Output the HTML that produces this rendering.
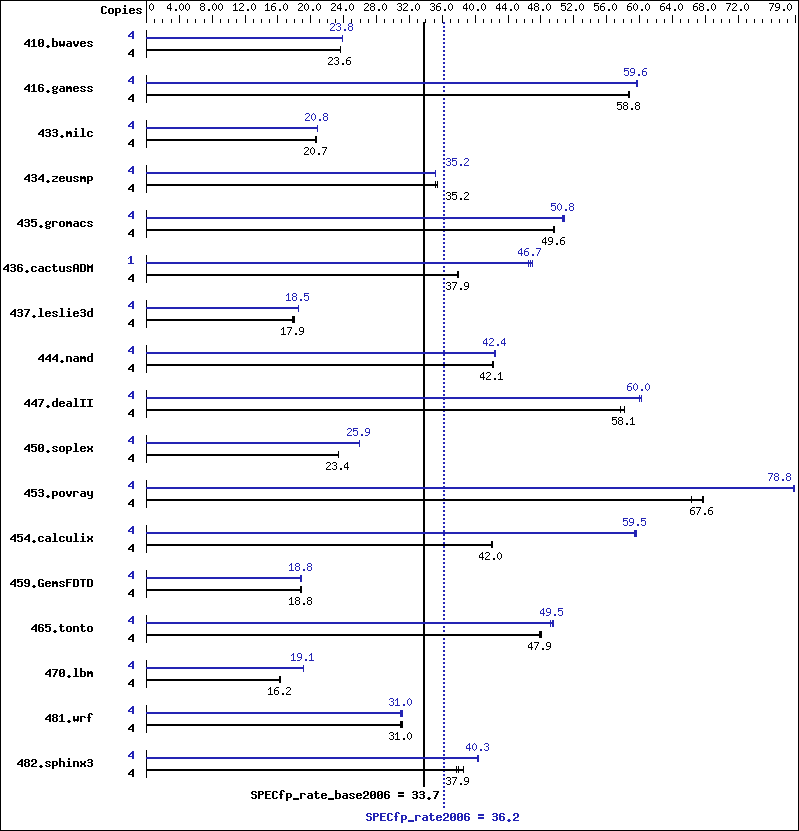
<!DOCTYPE html>
<html lang="en">
<head>
<meta charset="utf-8">
<title>SPECfp_rate2006 result graph</title>
<style>
html,body{margin:0;padding:0;background:#fff;}
body{width:799px;height:831px;overflow:hidden;font-family:"Liberation Mono",monospace;}
svg{display:block;position:absolute;left:0;top:0;}
.t{font-family:"Liberation Mono",monospace;font-size:10px;fill-opacity:0;stroke:none;}
.tb{font-size:11.6px;font-weight:bold;}
</style>
</head>
<body>
<svg width="799" height="831" viewBox="0 0 799 831" shape-rendering="crispEdges" role="img" aria-label="SPECfp_rate2006 benchmark results chart">
<defs>
<path id="s46" d="M2 9h2v1h-2zM2 10h2v1h-2z"/>
<path id="s48" d="M2 3h1v1h-1zM1 4h1v1h-1zM3 4h1v1h-1zM0 5h1v1h-1zM4 5h1v1h-1zM0 6h1v1h-1zM4 6h1v1h-1zM0 7h1v1h-1zM4 7h1v1h-1zM0 8h1v1h-1zM4 8h1v1h-1zM1 9h1v1h-1zM3 9h1v1h-1zM2 10h1v1h-1z"/>
<path id="s49" d="M2 3h1v1h-1zM1 4h2v1h-2zM0 5h1v1h-1zM2 5h1v1h-1zM2 6h1v1h-1zM2 7h1v1h-1zM2 8h1v1h-1zM2 9h1v1h-1zM0 10h5v1h-5z"/>
<path id="s50" d="M1 3h3v1h-3zM0 4h1v1h-1zM4 4h1v1h-1zM4 5h1v1h-1zM3 6h1v1h-1zM2 7h1v1h-1zM1 8h1v1h-1zM0 9h1v1h-1zM0 10h5v1h-5z"/>
<path id="s51" d="M1 3h3v1h-3zM0 4h1v1h-1zM4 4h1v1h-1zM4 5h1v1h-1zM2 6h2v1h-2zM4 7h1v1h-1zM4 8h1v1h-1zM0 9h1v1h-1zM4 9h1v1h-1zM1 10h3v1h-3z"/>
<path id="s52" d="M3 3h1v1h-1zM2 4h2v1h-2zM1 5h1v1h-1zM3 5h1v1h-1zM0 6h1v1h-1zM3 6h1v1h-1zM0 7h1v1h-1zM3 7h1v1h-1zM0 8h5v1h-5zM3 9h1v1h-1zM3 10h1v1h-1z"/>
<path id="s53" d="M0 3h5v1h-5zM0 4h1v1h-1zM0 5h4v1h-4zM0 6h1v1h-1zM4 6h1v1h-1zM4 7h1v1h-1zM4 8h1v1h-1zM0 9h1v1h-1zM4 9h1v1h-1zM1 10h3v1h-3z"/>
<path id="s54" d="M2 3h3v1h-3zM1 4h1v1h-1zM0 5h1v1h-1zM0 6h4v1h-4zM0 7h1v1h-1zM4 7h1v1h-1zM0 8h1v1h-1zM4 8h1v1h-1zM0 9h1v1h-1zM4 9h1v1h-1zM1 10h3v1h-3z"/>
<path id="s55" d="M0 3h5v1h-5zM4 4h1v1h-1zM3 5h1v1h-1zM3 6h1v1h-1zM2 7h1v1h-1zM2 8h1v1h-1zM1 9h1v1h-1zM1 10h1v1h-1z"/>
<path id="s56" d="M1 3h3v1h-3zM0 4h1v1h-1zM4 4h1v1h-1zM0 5h1v1h-1zM4 5h1v1h-1zM1 6h3v1h-3zM0 7h1v1h-1zM4 7h1v1h-1zM0 8h1v1h-1zM4 8h1v1h-1zM0 9h1v1h-1zM4 9h1v1h-1zM1 10h3v1h-3z"/>
<path id="s57" d="M1 3h3v1h-3zM0 4h1v1h-1zM4 4h1v1h-1zM0 5h1v1h-1zM4 5h1v1h-1zM0 6h1v1h-1zM4 6h1v1h-1zM1 7h4v1h-4zM4 8h1v1h-1zM3 9h1v1h-1zM0 10h3v1h-3z"/>
<path id="b46" d="M2 9h2v1h-2zM1 10h4v1h-4zM2 11h2v1h-2z"/>
<path id="b48" d="M1 3h4v1h-4zM0 4h2v1h-2zM4 4h2v1h-2zM0 5h2v1h-2zM4 5h2v1h-2zM0 6h2v1h-2zM3 6h3v1h-3zM0 7h3v1h-3zM4 7h2v1h-2zM0 8h2v1h-2zM4 8h2v1h-2zM0 9h2v1h-2zM4 9h2v1h-2zM1 10h4v1h-4z"/>
<path id="b49" d="M2 3h2v1h-2zM1 4h3v1h-3zM0 5h1v1h-1zM2 5h2v1h-2zM2 6h2v1h-2zM2 7h2v1h-2zM2 8h2v1h-2zM2 9h2v1h-2zM0 10h6v1h-6z"/>
<path id="b50" d="M1 3h4v1h-4zM0 4h2v1h-2zM4 4h2v1h-2zM0 5h2v1h-2zM4 5h2v1h-2zM4 6h2v1h-2zM2 7h3v1h-3zM1 8h2v1h-2zM0 9h2v1h-2zM0 10h6v1h-6z"/>
<path id="b51" d="M1 3h4v1h-4zM0 4h2v1h-2zM4 4h2v1h-2zM4 5h2v1h-2zM1 6h4v1h-4zM4 7h2v1h-2zM4 8h2v1h-2zM0 9h2v1h-2zM4 9h2v1h-2zM1 10h4v1h-4z"/>
<path id="b52" d="M4 3h2v1h-2zM3 4h3v1h-3zM2 5h4v1h-4zM1 6h2v1h-2zM4 6h2v1h-2zM0 7h2v1h-2zM4 7h2v1h-2zM0 8h6v1h-6zM4 9h2v1h-2zM4 10h2v1h-2z"/>
<path id="b53" d="M0 3h6v1h-6zM0 4h2v1h-2zM0 5h5v1h-5zM0 6h2v1h-2zM4 6h2v1h-2zM4 7h2v1h-2zM4 8h2v1h-2zM0 9h2v1h-2zM4 9h2v1h-2zM1 10h4v1h-4z"/>
<path id="b54" d="M1 3h4v1h-4zM0 4h2v1h-2zM4 4h2v1h-2zM0 5h2v1h-2zM0 6h5v1h-5zM0 7h2v1h-2zM4 7h2v1h-2zM0 8h2v1h-2zM4 8h2v1h-2zM0 9h2v1h-2zM4 9h2v1h-2zM1 10h4v1h-4z"/>
<path id="b55" d="M0 3h6v1h-6zM4 4h2v1h-2zM3 5h2v1h-2zM3 6h2v1h-2zM2 7h2v1h-2zM2 8h2v1h-2zM1 9h2v1h-2zM1 10h2v1h-2z"/>
<path id="b56" d="M1 3h4v1h-4zM0 4h2v1h-2zM4 4h2v1h-2zM0 5h2v1h-2zM4 5h2v1h-2zM1 6h4v1h-4zM0 7h2v1h-2zM4 7h2v1h-2zM0 8h2v1h-2zM4 8h2v1h-2zM0 9h2v1h-2zM4 9h2v1h-2zM1 10h4v1h-4z"/>
<path id="b57" d="M1 3h4v1h-4zM0 4h2v1h-2zM4 4h2v1h-2zM0 5h2v1h-2zM4 5h2v1h-2zM0 6h2v1h-2zM4 6h2v1h-2zM1 7h5v1h-5zM4 8h2v1h-2zM0 9h2v1h-2zM4 9h2v1h-2zM1 10h4v1h-4z"/>
<path id="b61" d="M0 4h6v1h-6zM0 5h6v1h-6zM0 7h6v1h-6zM0 8h6v1h-6z"/>
<path id="b65" d="M1 3h4v1h-4zM0 4h2v1h-2zM4 4h2v1h-2zM0 5h2v1h-2zM4 5h2v1h-2zM0 6h2v1h-2zM4 6h2v1h-2zM0 7h6v1h-6zM0 8h2v1h-2zM4 8h2v1h-2zM0 9h2v1h-2zM4 9h2v1h-2zM0 10h2v1h-2zM4 10h2v1h-2z"/>
<path id="b67" d="M1 3h4v1h-4zM0 4h2v1h-2zM4 4h2v1h-2zM0 5h2v1h-2zM0 6h2v1h-2zM0 7h2v1h-2zM0 8h2v1h-2zM0 9h2v1h-2zM4 9h2v1h-2zM1 10h4v1h-4z"/>
<path id="b68" d="M0 3h5v1h-5zM0 4h2v1h-2zM4 4h2v1h-2zM0 5h2v1h-2zM4 5h2v1h-2zM0 6h2v1h-2zM4 6h2v1h-2zM0 7h2v1h-2zM4 7h2v1h-2zM0 8h2v1h-2zM4 8h2v1h-2zM0 9h2v1h-2zM4 9h2v1h-2zM0 10h5v1h-5z"/>
<path id="b69" d="M0 3h6v1h-6zM0 4h2v1h-2zM0 5h2v1h-2zM0 6h5v1h-5zM0 7h2v1h-2zM0 8h2v1h-2zM0 9h2v1h-2zM0 10h6v1h-6z"/>
<path id="b70" d="M0 3h6v1h-6zM0 4h2v1h-2zM0 5h2v1h-2zM0 6h5v1h-5zM0 7h2v1h-2zM0 8h2v1h-2zM0 9h2v1h-2zM0 10h2v1h-2z"/>
<path id="b71" d="M1 3h4v1h-4zM0 4h2v1h-2zM4 4h2v1h-2zM0 5h2v1h-2zM0 6h2v1h-2zM0 7h2v1h-2zM3 7h3v1h-3zM0 8h2v1h-2zM4 8h2v1h-2zM0 9h2v1h-2zM4 9h2v1h-2zM1 10h5v1h-5z"/>
<path id="b73" d="M0 3h6v1h-6zM2 4h2v1h-2zM2 5h2v1h-2zM2 6h2v1h-2zM2 7h2v1h-2zM2 8h2v1h-2zM2 9h2v1h-2zM0 10h6v1h-6z"/>
<path id="b77" d="M0 3h1v1h-1zM5 3h1v1h-1zM0 4h2v1h-2zM4 4h2v1h-2zM0 5h6v1h-6zM0 6h6v1h-6zM0 7h2v1h-2zM4 7h2v1h-2zM0 8h2v1h-2zM4 8h2v1h-2zM0 9h2v1h-2zM4 9h2v1h-2zM0 10h2v1h-2zM4 10h2v1h-2z"/>
<path id="b80" d="M0 3h5v1h-5zM0 4h2v1h-2zM4 4h2v1h-2zM0 5h2v1h-2zM4 5h2v1h-2zM0 6h5v1h-5zM0 7h2v1h-2zM0 8h2v1h-2zM0 9h2v1h-2zM0 10h2v1h-2z"/>
<path id="b83" d="M1 3h4v1h-4zM0 4h2v1h-2zM4 4h2v1h-2zM0 5h2v1h-2zM1 6h4v1h-4zM4 7h2v1h-2zM4 8h2v1h-2zM0 9h2v1h-2zM4 9h2v1h-2zM1 10h4v1h-4z"/>
<path id="b84" d="M0 3h6v1h-6zM2 4h2v1h-2zM2 5h2v1h-2zM2 6h2v1h-2zM2 7h2v1h-2zM2 8h2v1h-2zM2 9h2v1h-2zM2 10h2v1h-2z"/>
<path id="b95" d="M0 10h6v1h-6zM0 11h6v1h-6z"/>
<path id="b97" d="M1 5h4v1h-4zM4 6h2v1h-2zM1 7h5v1h-5zM0 8h2v1h-2zM4 8h2v1h-2zM0 9h2v1h-2zM4 9h2v1h-2zM1 10h5v1h-5z"/>
<path id="b98" d="M0 2h2v1h-2zM0 3h2v1h-2zM0 4h2v1h-2zM0 5h5v1h-5zM0 6h2v1h-2zM4 6h2v1h-2zM0 7h2v1h-2zM4 7h2v1h-2zM0 8h2v1h-2zM4 8h2v1h-2zM0 9h2v1h-2zM4 9h2v1h-2zM0 10h5v1h-5z"/>
<path id="b99" d="M1 5h4v1h-4zM0 6h2v1h-2zM4 6h2v1h-2zM0 7h2v1h-2zM0 8h2v1h-2zM0 9h2v1h-2zM4 9h2v1h-2zM1 10h4v1h-4z"/>
<path id="b100" d="M4 2h2v1h-2zM4 3h2v1h-2zM4 4h2v1h-2zM1 5h5v1h-5zM0 6h2v1h-2zM4 6h2v1h-2zM0 7h2v1h-2zM4 7h2v1h-2zM0 8h2v1h-2zM4 8h2v1h-2zM0 9h2v1h-2zM4 9h2v1h-2zM1 10h5v1h-5z"/>
<path id="b101" d="M1 5h4v1h-4zM0 6h2v1h-2zM4 6h2v1h-2zM0 7h6v1h-6zM0 8h2v1h-2zM0 9h2v1h-2zM4 9h2v1h-2zM1 10h4v1h-4z"/>
<path id="b102" d="M2 2h3v1h-3zM1 3h2v1h-2zM4 3h2v1h-2zM1 4h2v1h-2zM1 5h2v1h-2zM0 6h4v1h-4zM1 7h2v1h-2zM1 8h2v1h-2zM1 9h2v1h-2zM1 10h2v1h-2z"/>
<path id="b103" d="M1 5h3v1h-3zM5 5h1v1h-1zM0 6h2v1h-2zM4 6h2v1h-2zM0 7h2v1h-2zM4 7h2v1h-2zM1 8h4v1h-4zM0 9h2v1h-2zM1 10h4v1h-4zM0 11h2v1h-2zM4 11h2v1h-2zM1 12h4v1h-4z"/>
<path id="b104" d="M0 2h2v1h-2zM0 3h2v1h-2zM0 4h2v1h-2zM0 5h5v1h-5zM0 6h2v1h-2zM4 6h2v1h-2zM0 7h2v1h-2zM4 7h2v1h-2zM0 8h2v1h-2zM4 8h2v1h-2zM0 9h2v1h-2zM4 9h2v1h-2zM0 10h2v1h-2zM4 10h2v1h-2z"/>
<path id="b105" d="M2 2h2v1h-2zM2 3h2v1h-2zM1 5h3v1h-3zM2 6h2v1h-2zM2 7h2v1h-2zM2 8h2v1h-2zM2 9h2v1h-2zM0 10h6v1h-6z"/>
<path id="b108" d="M1 2h3v1h-3zM2 3h2v1h-2zM2 4h2v1h-2zM2 5h2v1h-2zM2 6h2v1h-2zM2 7h2v1h-2zM2 8h2v1h-2zM2 9h2v1h-2zM0 10h6v1h-6z"/>
<path id="b109" d="M0 5h2v1h-2zM3 5h2v1h-2zM0 6h6v1h-6zM0 7h6v1h-6zM0 8h2v1h-2zM4 8h2v1h-2zM0 9h2v1h-2zM4 9h2v1h-2zM0 10h2v1h-2zM4 10h2v1h-2z"/>
<path id="b110" d="M0 5h5v1h-5zM0 6h2v1h-2zM4 6h2v1h-2zM0 7h2v1h-2zM4 7h2v1h-2zM0 8h2v1h-2zM4 8h2v1h-2zM0 9h2v1h-2zM4 9h2v1h-2zM0 10h2v1h-2zM4 10h2v1h-2z"/>
<path id="b111" d="M1 5h4v1h-4zM0 6h2v1h-2zM4 6h2v1h-2zM0 7h2v1h-2zM4 7h2v1h-2zM0 8h2v1h-2zM4 8h2v1h-2zM0 9h2v1h-2zM4 9h2v1h-2zM1 10h4v1h-4z"/>
<path id="b112" d="M0 5h5v1h-5zM0 6h2v1h-2zM4 6h2v1h-2zM0 7h2v1h-2zM4 7h2v1h-2zM0 8h2v1h-2zM4 8h2v1h-2zM0 9h5v1h-5zM0 10h2v1h-2zM0 11h2v1h-2zM0 12h2v1h-2z"/>
<path id="b114" d="M0 5h5v1h-5zM0 6h2v1h-2zM4 6h2v1h-2zM0 7h2v1h-2zM0 8h2v1h-2zM0 9h2v1h-2zM0 10h2v1h-2z"/>
<path id="b115" d="M1 5h4v1h-4zM0 6h2v1h-2zM4 6h2v1h-2zM1 7h2v1h-2zM3 8h2v1h-2zM0 9h2v1h-2zM4 9h2v1h-2zM1 10h4v1h-4z"/>
<path id="b116" d="M1 3h2v1h-2zM1 4h2v1h-2zM0 5h5v1h-5zM1 6h2v1h-2zM1 7h2v1h-2zM1 8h2v1h-2zM1 9h2v1h-2zM4 9h2v1h-2zM2 10h3v1h-3z"/>
<path id="b117" d="M0 5h2v1h-2zM4 5h2v1h-2zM0 6h2v1h-2zM4 6h2v1h-2zM0 7h2v1h-2zM4 7h2v1h-2zM0 8h2v1h-2zM4 8h2v1h-2zM0 9h2v1h-2zM4 9h2v1h-2zM1 10h5v1h-5z"/>
<path id="b118" d="M0 5h2v1h-2zM4 5h2v1h-2zM0 6h2v1h-2zM4 6h2v1h-2zM0 7h2v1h-2zM4 7h2v1h-2zM1 8h4v1h-4zM1 9h4v1h-4zM2 10h2v1h-2z"/>
<path id="b119" d="M0 5h2v1h-2zM4 5h2v1h-2zM0 6h2v1h-2zM4 6h2v1h-2zM0 7h2v1h-2zM4 7h2v1h-2zM0 8h6v1h-6zM0 9h6v1h-6zM1 10h1v1h-1zM4 10h1v1h-1z"/>
<path id="b120" d="M0 5h2v1h-2zM4 5h2v1h-2zM0 6h2v1h-2zM4 6h2v1h-2zM1 7h4v1h-4zM1 8h4v1h-4zM0 9h2v1h-2zM4 9h2v1h-2zM0 10h2v1h-2zM4 10h2v1h-2z"/>
<path id="b121" d="M0 5h2v1h-2zM4 5h2v1h-2zM0 6h2v1h-2zM4 6h2v1h-2zM0 7h2v1h-2zM4 7h2v1h-2zM0 8h2v1h-2zM4 8h2v1h-2zM1 9h5v1h-5zM4 10h2v1h-2zM4 11h2v1h-2zM1 12h4v1h-4z"/>
<path id="b122" d="M0 5h6v1h-6zM4 6h2v1h-2zM3 7h2v1h-2zM1 8h2v1h-2zM0 9h2v1h-2zM0 10h6v1h-6z"/>
</defs>
<rect x="0" y="0" width="799" height="831" fill="#fff"/>
<g id="border" fill="#000"><rect x="0" y="0" width="799" height="1"/><rect x="0" y="830" width="799" height="1"/><rect x="0" y="0" width="1" height="831"/><rect x="798" y="0" width="1" height="831"/></g>
<g id="axis" fill="#000"><rect x="146" y="0" width="1" height="23"/><rect x="154" y="19" width="1" height="4"/><rect x="162" y="19" width="1" height="4"/><rect x="171" y="19" width="1" height="4"/><rect x="179" y="15" width="1" height="8"/><rect x="187" y="19" width="1" height="4"/><rect x="195" y="19" width="1" height="4"/><rect x="204" y="19" width="1" height="4"/><rect x="212" y="15" width="1" height="8"/><rect x="220" y="19" width="1" height="4"/><rect x="228" y="19" width="1" height="4"/><rect x="236" y="19" width="1" height="4"/><rect x="245" y="15" width="1" height="8"/><rect x="253" y="19" width="1" height="4"/><rect x="261" y="19" width="1" height="4"/><rect x="269" y="19" width="1" height="4"/><rect x="277" y="15" width="1" height="8"/><rect x="286" y="19" width="1" height="4"/><rect x="294" y="19" width="1" height="4"/><rect x="302" y="19" width="1" height="4"/><rect x="310" y="15" width="1" height="8"/><rect x="319" y="19" width="1" height="4"/><rect x="327" y="19" width="1" height="4"/><rect x="335" y="19" width="1" height="4"/><rect x="343" y="15" width="1" height="8"/><rect x="351" y="19" width="1" height="4"/><rect x="360" y="19" width="1" height="4"/><rect x="368" y="19" width="1" height="4"/><rect x="376" y="15" width="1" height="8"/><rect x="384" y="19" width="1" height="4"/><rect x="393" y="19" width="1" height="4"/><rect x="401" y="19" width="1" height="4"/><rect x="409" y="15" width="1" height="8"/><rect x="417" y="19" width="1" height="4"/><rect x="425" y="19" width="1" height="4"/><rect x="434" y="19" width="1" height="4"/><rect x="442" y="15" width="1" height="8"/><rect x="450" y="19" width="1" height="4"/><rect x="458" y="19" width="1" height="4"/><rect x="467" y="19" width="1" height="4"/><rect x="475" y="15" width="1" height="8"/><rect x="483" y="19" width="1" height="4"/><rect x="491" y="19" width="1" height="4"/><rect x="499" y="19" width="1" height="4"/><rect x="508" y="15" width="1" height="8"/><rect x="516" y="19" width="1" height="4"/><rect x="524" y="19" width="1" height="4"/><rect x="532" y="19" width="1" height="4"/><rect x="540" y="15" width="1" height="8"/><rect x="549" y="19" width="1" height="4"/><rect x="557" y="19" width="1" height="4"/><rect x="565" y="19" width="1" height="4"/><rect x="573" y="15" width="1" height="8"/><rect x="582" y="19" width="1" height="4"/><rect x="590" y="19" width="1" height="4"/><rect x="598" y="19" width="1" height="4"/><rect x="606" y="15" width="1" height="8"/><rect x="614" y="19" width="1" height="4"/><rect x="623" y="19" width="1" height="4"/><rect x="631" y="19" width="1" height="4"/><rect x="639" y="15" width="1" height="8"/><rect x="647" y="19" width="1" height="4"/><rect x="656" y="19" width="1" height="4"/><rect x="664" y="19" width="1" height="4"/><rect x="672" y="15" width="1" height="8"/><rect x="680" y="19" width="1" height="4"/><rect x="688" y="19" width="1" height="4"/><rect x="697" y="19" width="1" height="4"/><rect x="705" y="15" width="1" height="8"/><rect x="713" y="19" width="1" height="4"/><rect x="721" y="19" width="1" height="4"/><rect x="729" y="19" width="1" height="4"/><rect x="738" y="15" width="1" height="8"/><rect x="746" y="19" width="1" height="4"/><rect x="754" y="19" width="1" height="4"/><rect x="762" y="19" width="1" height="4"/><rect x="771" y="19" width="1" height="4"/><rect x="779" y="19" width="1" height="4"/><rect x="787" y="19" width="1" height="4"/><rect x="795" y="15" width="1" height="8"/>
<g><text class="t" x="149" y="11" textLength="6">0</text><use href="#s48" x="149" y="0"/></g>
<g><text class="t" x="167" y="11" textLength="24">4.00</text><use href="#s52" x="167" y="0"/><use href="#s46" x="173" y="0"/><use href="#s48" x="179" y="0"/><use href="#s48" x="185" y="0"/></g>
<g><text class="t" x="200" y="11" textLength="24">8.00</text><use href="#s56" x="200" y="0"/><use href="#s46" x="206" y="0"/><use href="#s48" x="212" y="0"/><use href="#s48" x="218" y="0"/></g>
<g><text class="t" x="233" y="11" textLength="24">12.0</text><use href="#s49" x="233" y="0"/><use href="#s50" x="239" y="0"/><use href="#s46" x="245" y="0"/><use href="#s48" x="251" y="0"/></g>
<g><text class="t" x="265" y="11" textLength="24">16.0</text><use href="#s49" x="265" y="0"/><use href="#s54" x="271" y="0"/><use href="#s46" x="277" y="0"/><use href="#s48" x="283" y="0"/></g>
<g><text class="t" x="298" y="11" textLength="24">20.0</text><use href="#s50" x="298" y="0"/><use href="#s48" x="304" y="0"/><use href="#s46" x="310" y="0"/><use href="#s48" x="316" y="0"/></g>
<g><text class="t" x="331" y="11" textLength="24">24.0</text><use href="#s50" x="331" y="0"/><use href="#s52" x="337" y="0"/><use href="#s46" x="343" y="0"/><use href="#s48" x="349" y="0"/></g>
<g><text class="t" x="364" y="11" textLength="24">28.0</text><use href="#s50" x="364" y="0"/><use href="#s56" x="370" y="0"/><use href="#s46" x="376" y="0"/><use href="#s48" x="382" y="0"/></g>
<g><text class="t" x="397" y="11" textLength="24">32.0</text><use href="#s51" x="397" y="0"/><use href="#s50" x="403" y="0"/><use href="#s46" x="409" y="0"/><use href="#s48" x="415" y="0"/></g>
<g><text class="t" x="430" y="11" textLength="24">36.0</text><use href="#s51" x="430" y="0"/><use href="#s54" x="436" y="0"/><use href="#s46" x="442" y="0"/><use href="#s48" x="448" y="0"/></g>
<g><text class="t" x="463" y="11" textLength="24">40.0</text><use href="#s52" x="463" y="0"/><use href="#s48" x="469" y="0"/><use href="#s46" x="475" y="0"/><use href="#s48" x="481" y="0"/></g>
<g><text class="t" x="496" y="11" textLength="24">44.0</text><use href="#s52" x="496" y="0"/><use href="#s52" x="502" y="0"/><use href="#s46" x="508" y="0"/><use href="#s48" x="514" y="0"/></g>
<g><text class="t" x="528" y="11" textLength="24">48.0</text><use href="#s52" x="528" y="0"/><use href="#s56" x="534" y="0"/><use href="#s46" x="540" y="0"/><use href="#s48" x="546" y="0"/></g>
<g><text class="t" x="561" y="11" textLength="24">52.0</text><use href="#s53" x="561" y="0"/><use href="#s50" x="567" y="0"/><use href="#s46" x="573" y="0"/><use href="#s48" x="579" y="0"/></g>
<g><text class="t" x="594" y="11" textLength="24">56.0</text><use href="#s53" x="594" y="0"/><use href="#s54" x="600" y="0"/><use href="#s46" x="606" y="0"/><use href="#s48" x="612" y="0"/></g>
<g><text class="t" x="627" y="11" textLength="24">60.0</text><use href="#s54" x="627" y="0"/><use href="#s48" x="633" y="0"/><use href="#s46" x="639" y="0"/><use href="#s48" x="645" y="0"/></g>
<g><text class="t" x="660" y="11" textLength="24">64.0</text><use href="#s54" x="660" y="0"/><use href="#s52" x="666" y="0"/><use href="#s46" x="672" y="0"/><use href="#s48" x="678" y="0"/></g>
<g><text class="t" x="693" y="11" textLength="24">68.0</text><use href="#s54" x="693" y="0"/><use href="#s56" x="699" y="0"/><use href="#s46" x="705" y="0"/><use href="#s48" x="711" y="0"/></g>
<g><text class="t" x="726" y="11" textLength="24">72.0</text><use href="#s55" x="726" y="0"/><use href="#s50" x="732" y="0"/><use href="#s46" x="738" y="0"/><use href="#s48" x="744" y="0"/></g>
<g><text class="t" x="769" y="11" textLength="24">79.0</text><use href="#s55" x="769" y="0"/><use href="#s57" x="775" y="0"/><use href="#s46" x="781" y="0"/><use href="#s48" x="787" y="0"/></g>
<g><text class="t tb" x="101" y="14" textLength="42">Copies</text><use href="#b67" x="101" y="3"/><use href="#b111" x="108" y="3"/><use href="#b112" x="115" y="3"/><use href="#b105" x="122" y="3"/><use href="#b101" x="129" y="3"/><use href="#b115" x="136" y="3"/></g></g>
<g id="mean-base" fill="#000"><rect x="423" y="22" width="2" height="765"/></g>
<g id="mean-peak" fill="#2424b4"><rect x="443" y="22" width="2" height="2"/><rect x="443" y="26" width="2" height="2"/><rect x="443" y="30" width="2" height="2"/><rect x="443" y="34" width="2" height="2"/><rect x="443" y="38" width="2" height="2"/><rect x="443" y="42" width="2" height="2"/><rect x="443" y="46" width="2" height="2"/><rect x="443" y="50" width="2" height="2"/><rect x="443" y="54" width="2" height="2"/><rect x="443" y="58" width="2" height="2"/><rect x="443" y="62" width="2" height="2"/><rect x="443" y="66" width="2" height="2"/><rect x="443" y="70" width="2" height="2"/><rect x="443" y="74" width="2" height="2"/><rect x="443" y="78" width="2" height="2"/><rect x="443" y="82" width="2" height="2"/><rect x="443" y="86" width="2" height="2"/><rect x="443" y="90" width="2" height="2"/><rect x="443" y="94" width="2" height="2"/><rect x="443" y="98" width="2" height="2"/><rect x="443" y="102" width="2" height="2"/><rect x="443" y="106" width="2" height="2"/><rect x="443" y="110" width="2" height="2"/><rect x="443" y="114" width="2" height="2"/><rect x="443" y="118" width="2" height="2"/><rect x="443" y="122" width="2" height="2"/><rect x="443" y="126" width="2" height="2"/><rect x="443" y="130" width="2" height="2"/><rect x="443" y="134" width="2" height="2"/><rect x="443" y="138" width="2" height="2"/><rect x="443" y="142" width="2" height="2"/><rect x="443" y="146" width="2" height="2"/><rect x="443" y="150" width="2" height="2"/><rect x="443" y="154" width="2" height="2"/><rect x="443" y="158" width="2" height="2"/><rect x="443" y="162" width="2" height="2"/><rect x="443" y="166" width="2" height="2"/><rect x="443" y="170" width="2" height="2"/><rect x="443" y="174" width="2" height="2"/><rect x="443" y="178" width="2" height="2"/><rect x="443" y="182" width="2" height="2"/><rect x="443" y="186" width="2" height="2"/><rect x="443" y="190" width="2" height="2"/><rect x="443" y="194" width="2" height="2"/><rect x="443" y="198" width="2" height="2"/><rect x="443" y="202" width="2" height="2"/><rect x="443" y="206" width="2" height="2"/><rect x="443" y="210" width="2" height="2"/><rect x="443" y="214" width="2" height="2"/><rect x="443" y="218" width="2" height="2"/><rect x="443" y="222" width="2" height="2"/><rect x="443" y="226" width="2" height="2"/><rect x="443" y="230" width="2" height="2"/><rect x="443" y="234" width="2" height="2"/><rect x="443" y="238" width="2" height="2"/><rect x="443" y="242" width="2" height="2"/><rect x="443" y="246" width="2" height="2"/><rect x="443" y="250" width="2" height="2"/><rect x="443" y="254" width="2" height="2"/><rect x="443" y="258" width="2" height="2"/><rect x="443" y="262" width="2" height="2"/><rect x="443" y="266" width="2" height="2"/><rect x="443" y="270" width="2" height="2"/><rect x="443" y="274" width="2" height="2"/><rect x="443" y="278" width="2" height="2"/><rect x="443" y="282" width="2" height="2"/><rect x="443" y="286" width="2" height="2"/><rect x="443" y="290" width="2" height="2"/><rect x="443" y="294" width="2" height="2"/><rect x="443" y="298" width="2" height="2"/><rect x="443" y="302" width="2" height="2"/><rect x="443" y="306" width="2" height="2"/><rect x="443" y="310" width="2" height="2"/><rect x="443" y="314" width="2" height="2"/><rect x="443" y="318" width="2" height="2"/><rect x="443" y="322" width="2" height="2"/><rect x="443" y="326" width="2" height="2"/><rect x="443" y="330" width="2" height="2"/><rect x="443" y="334" width="2" height="2"/><rect x="443" y="338" width="2" height="2"/><rect x="443" y="342" width="2" height="2"/><rect x="443" y="346" width="2" height="2"/><rect x="443" y="350" width="2" height="2"/><rect x="443" y="354" width="2" height="2"/><rect x="443" y="358" width="2" height="2"/><rect x="443" y="362" width="2" height="2"/><rect x="443" y="366" width="2" height="2"/><rect x="443" y="370" width="2" height="2"/><rect x="443" y="374" width="2" height="2"/><rect x="443" y="378" width="2" height="2"/><rect x="443" y="382" width="2" height="2"/><rect x="443" y="386" width="2" height="2"/><rect x="443" y="390" width="2" height="2"/><rect x="443" y="394" width="2" height="2"/><rect x="443" y="398" width="2" height="2"/><rect x="443" y="402" width="2" height="2"/><rect x="443" y="406" width="2" height="2"/><rect x="443" y="410" width="2" height="2"/><rect x="443" y="414" width="2" height="2"/><rect x="443" y="418" width="2" height="2"/><rect x="443" y="422" width="2" height="2"/><rect x="443" y="426" width="2" height="2"/><rect x="443" y="430" width="2" height="2"/><rect x="443" y="434" width="2" height="2"/><rect x="443" y="438" width="2" height="2"/><rect x="443" y="442" width="2" height="2"/><rect x="443" y="446" width="2" height="2"/><rect x="443" y="450" width="2" height="2"/><rect x="443" y="454" width="2" height="2"/><rect x="443" y="458" width="2" height="2"/><rect x="443" y="462" width="2" height="2"/><rect x="443" y="466" width="2" height="2"/><rect x="443" y="470" width="2" height="2"/><rect x="443" y="474" width="2" height="2"/><rect x="443" y="478" width="2" height="2"/><rect x="443" y="482" width="2" height="2"/><rect x="443" y="486" width="2" height="2"/><rect x="443" y="490" width="2" height="2"/><rect x="443" y="494" width="2" height="2"/><rect x="443" y="498" width="2" height="2"/><rect x="443" y="502" width="2" height="2"/><rect x="443" y="506" width="2" height="2"/><rect x="443" y="510" width="2" height="2"/><rect x="443" y="514" width="2" height="2"/><rect x="443" y="518" width="2" height="2"/><rect x="443" y="522" width="2" height="2"/><rect x="443" y="526" width="2" height="2"/><rect x="443" y="530" width="2" height="2"/><rect x="443" y="534" width="2" height="2"/><rect x="443" y="538" width="2" height="2"/><rect x="443" y="542" width="2" height="2"/><rect x="443" y="546" width="2" height="2"/><rect x="443" y="550" width="2" height="2"/><rect x="443" y="554" width="2" height="2"/><rect x="443" y="558" width="2" height="2"/><rect x="443" y="562" width="2" height="2"/><rect x="443" y="566" width="2" height="2"/><rect x="443" y="570" width="2" height="2"/><rect x="443" y="574" width="2" height="2"/><rect x="443" y="578" width="2" height="2"/><rect x="443" y="582" width="2" height="2"/><rect x="443" y="586" width="2" height="2"/><rect x="443" y="590" width="2" height="2"/><rect x="443" y="594" width="2" height="2"/><rect x="443" y="598" width="2" height="2"/><rect x="443" y="602" width="2" height="2"/><rect x="443" y="606" width="2" height="2"/><rect x="443" y="610" width="2" height="2"/><rect x="443" y="614" width="2" height="2"/><rect x="443" y="618" width="2" height="2"/><rect x="443" y="622" width="2" height="2"/><rect x="443" y="626" width="2" height="2"/><rect x="443" y="630" width="2" height="2"/><rect x="443" y="634" width="2" height="2"/><rect x="443" y="638" width="2" height="2"/><rect x="443" y="642" width="2" height="2"/><rect x="443" y="646" width="2" height="2"/><rect x="443" y="650" width="2" height="2"/><rect x="443" y="654" width="2" height="2"/><rect x="443" y="658" width="2" height="2"/><rect x="443" y="662" width="2" height="2"/><rect x="443" y="666" width="2" height="2"/><rect x="443" y="670" width="2" height="2"/><rect x="443" y="674" width="2" height="2"/><rect x="443" y="678" width="2" height="2"/><rect x="443" y="682" width="2" height="2"/><rect x="443" y="686" width="2" height="2"/><rect x="443" y="690" width="2" height="2"/><rect x="443" y="694" width="2" height="2"/><rect x="443" y="698" width="2" height="2"/><rect x="443" y="702" width="2" height="2"/><rect x="443" y="706" width="2" height="2"/><rect x="443" y="710" width="2" height="2"/><rect x="443" y="714" width="2" height="2"/><rect x="443" y="718" width="2" height="2"/><rect x="443" y="722" width="2" height="2"/><rect x="443" y="726" width="2" height="2"/><rect x="443" y="730" width="2" height="2"/><rect x="443" y="734" width="2" height="2"/><rect x="443" y="738" width="2" height="2"/><rect x="443" y="742" width="2" height="2"/><rect x="443" y="746" width="2" height="2"/><rect x="443" y="750" width="2" height="2"/><rect x="443" y="754" width="2" height="2"/><rect x="443" y="758" width="2" height="2"/><rect x="443" y="762" width="2" height="2"/><rect x="443" y="766" width="2" height="2"/><rect x="443" y="770" width="2" height="2"/><rect x="443" y="774" width="2" height="2"/><rect x="443" y="778" width="2" height="2"/><rect x="443" y="782" width="2" height="2"/><rect x="443" y="786" width="2" height="2"/><rect x="443" y="790" width="2" height="2"/><rect x="443" y="794" width="2" height="2"/><rect x="443" y="798" width="2" height="2"/><rect x="443" y="802" width="2" height="2"/><rect x="443" y="806" width="2" height="2"/></g>
<g id="row-axes" fill="#000"><rect x="146" y="30" width="1" height="28"/><rect x="146" y="75" width="1" height="28"/><rect x="146" y="120" width="1" height="28"/><rect x="146" y="165" width="1" height="28"/><rect x="146" y="210" width="1" height="28"/><rect x="146" y="255" width="1" height="28"/><rect x="146" y="300" width="1" height="28"/><rect x="146" y="345" width="1" height="28"/><rect x="146" y="390" width="1" height="28"/><rect x="146" y="435" width="1" height="28"/><rect x="146" y="480" width="1" height="28"/><rect x="146" y="525" width="1" height="28"/><rect x="146" y="570" width="1" height="28"/><rect x="146" y="615" width="1" height="28"/><rect x="146" y="660" width="1" height="28"/><rect x="146" y="705" width="1" height="28"/><rect x="146" y="750" width="1" height="28"/></g>
<g id="base-bars" fill="#000">
<rect x="146" y="49" width="195" height="2"/>
<rect x="340" y="46" width="1" height="7"/>
<rect x="146" y="94" width="484" height="2"/>
<rect x="628" y="91" width="1" height="7"/>
<rect x="629" y="91" width="1" height="7"/>
<rect x="146" y="139" width="171" height="2"/>
<rect x="315" y="136" width="1" height="7"/>
<rect x="316" y="136" width="1" height="7"/>
<rect x="146" y="184" width="292" height="2"/>
<rect x="435" y="181" width="1" height="7"/>
<rect x="437" y="181" width="1" height="7"/>
<rect x="146" y="229" width="409" height="2"/>
<rect x="553" y="226" width="1" height="7"/>
<rect x="554" y="226" width="1" height="7"/>
<rect x="146" y="274" width="313" height="2"/>
<rect x="457" y="271" width="1" height="7"/>
<rect x="458" y="271" width="1" height="7"/>
<rect x="146" y="319" width="149" height="2"/>
<rect x="292" y="316" width="1" height="7"/>
<rect x="293" y="316" width="1" height="7"/>
<rect x="294" y="316" width="1" height="7"/>
<rect x="146" y="364" width="348" height="2"/>
<rect x="492" y="361" width="1" height="7"/>
<rect x="493" y="361" width="1" height="7"/>
<rect x="146" y="409" width="479" height="2"/>
<rect x="620" y="406" width="1" height="7"/>
<rect x="624" y="406" width="1" height="7"/>
<rect x="146" y="454" width="193" height="2"/>
<rect x="338" y="451" width="1" height="7"/>
<rect x="146" y="499" width="558" height="2"/>
<rect x="691" y="496" width="1" height="7"/>
<rect x="702" y="496" width="1" height="7"/>
<rect x="703" y="496" width="1" height="7"/>
<rect x="146" y="544" width="347" height="2"/>
<rect x="491" y="541" width="1" height="7"/>
<rect x="492" y="541" width="1" height="7"/>
<rect x="146" y="589" width="156" height="2"/>
<rect x="300" y="586" width="1" height="7"/>
<rect x="301" y="586" width="1" height="7"/>
<rect x="146" y="634" width="396" height="2"/>
<rect x="539" y="631" width="1" height="7"/>
<rect x="540" y="631" width="1" height="7"/>
<rect x="541" y="631" width="1" height="7"/>
<rect x="146" y="679" width="135" height="2"/>
<rect x="279" y="676" width="1" height="7"/>
<rect x="280" y="676" width="1" height="7"/>
<rect x="146" y="724" width="257" height="2"/>
<rect x="400" y="721" width="1" height="7"/>
<rect x="401" y="721" width="1" height="7"/>
<rect x="402" y="721" width="1" height="7"/>
<rect x="146" y="769" width="318" height="2"/>
<rect x="456" y="766" width="1" height="7"/>
<rect x="458" y="766" width="1" height="7"/>
<rect x="463" y="766" width="1" height="7"/>
</g>
<g id="peak-bars" fill="#2424b4">
<rect x="146" y="37" width="197" height="2"/>
<rect x="342" y="35" width="1" height="7"/>
<rect x="146" y="82" width="492" height="2"/>
<rect x="636" y="80" width="1" height="7"/>
<rect x="637" y="80" width="1" height="7"/>
<rect x="146" y="127" width="172" height="2"/>
<rect x="317" y="125" width="1" height="7"/>
<rect x="146" y="172" width="290" height="2"/>
<rect x="435" y="170" width="1" height="7"/>
<rect x="146" y="217" width="419" height="2"/>
<rect x="562" y="215" width="1" height="7"/>
<rect x="563" y="215" width="1" height="7"/>
<rect x="564" y="215" width="1" height="7"/>
<rect x="146" y="262" width="387" height="2"/>
<rect x="528" y="260" width="1" height="7"/>
<rect x="530" y="260" width="1" height="7"/>
<rect x="532" y="260" width="1" height="7"/>
<rect x="146" y="307" width="153" height="2"/>
<rect x="298" y="305" width="1" height="7"/>
<rect x="146" y="352" width="350" height="2"/>
<rect x="494" y="350" width="1" height="7"/>
<rect x="495" y="350" width="1" height="7"/>
<rect x="146" y="397" width="496" height="2"/>
<rect x="639" y="395" width="1" height="7"/>
<rect x="641" y="395" width="1" height="7"/>
<rect x="146" y="442" width="214" height="2"/>
<rect x="359" y="440" width="1" height="7"/>
<rect x="146" y="487" width="649" height="2"/>
<rect x="793" y="485" width="1" height="7"/>
<rect x="794" y="485" width="1" height="7"/>
<rect x="146" y="532" width="491" height="2"/>
<rect x="634" y="530" width="1" height="7"/>
<rect x="635" y="530" width="1" height="7"/>
<rect x="636" y="530" width="1" height="7"/>
<rect x="146" y="577" width="156" height="2"/>
<rect x="300" y="575" width="1" height="7"/>
<rect x="301" y="575" width="1" height="7"/>
<rect x="146" y="622" width="408" height="2"/>
<rect x="550" y="620" width="1" height="7"/>
<rect x="552" y="620" width="1" height="7"/>
<rect x="553" y="620" width="1" height="7"/>
<rect x="146" y="667" width="158" height="2"/>
<rect x="303" y="665" width="1" height="7"/>
<rect x="146" y="712" width="257" height="2"/>
<rect x="400" y="710" width="1" height="7"/>
<rect x="401" y="710" width="1" height="7"/>
<rect x="402" y="710" width="1" height="7"/>
<rect x="146" y="757" width="333" height="2"/>
<rect x="477" y="755" width="1" height="7"/>
<rect x="478" y="755" width="1" height="7"/>
</g>
<g id="labels-base" fill="#000">
<g><text class="t tb" x="24" y="47" textLength="70">410.bwaves</text><use href="#b52" x="24" y="36"/><use href="#b49" x="31" y="36"/><use href="#b48" x="38" y="36"/><use href="#b46" x="45" y="36"/><use href="#b98" x="52" y="36"/><use href="#b119" x="59" y="36"/><use href="#b97" x="66" y="36"/><use href="#b118" x="73" y="36"/><use href="#b101" x="80" y="36"/><use href="#b115" x="87" y="36"/></g>
<g><text class="t tb" x="128" y="57" textLength="7">4</text><use href="#b52" x="128" y="46"/></g>
<g><text class="t" x="328" y="65" textLength="24">23.6</text><use href="#s50" x="328" y="54"/><use href="#s51" x="334" y="54"/><use href="#s46" x="340" y="54"/><use href="#s54" x="346" y="54"/></g>
<g><text class="t tb" x="24" y="92" textLength="70">416.gamess</text><use href="#b52" x="24" y="81"/><use href="#b49" x="31" y="81"/><use href="#b54" x="38" y="81"/><use href="#b46" x="45" y="81"/><use href="#b103" x="52" y="81"/><use href="#b97" x="59" y="81"/><use href="#b109" x="66" y="81"/><use href="#b101" x="73" y="81"/><use href="#b115" x="80" y="81"/><use href="#b115" x="87" y="81"/></g>
<g><text class="t tb" x="128" y="102" textLength="7">4</text><use href="#b52" x="128" y="91"/></g>
<g><text class="t" x="617" y="110" textLength="24">58.8</text><use href="#s53" x="617" y="99"/><use href="#s56" x="623" y="99"/><use href="#s46" x="629" y="99"/><use href="#s56" x="635" y="99"/></g>
<g><text class="t tb" x="38" y="137" textLength="56">433.milc</text><use href="#b52" x="38" y="126"/><use href="#b51" x="45" y="126"/><use href="#b51" x="52" y="126"/><use href="#b46" x="59" y="126"/><use href="#b109" x="66" y="126"/><use href="#b105" x="73" y="126"/><use href="#b108" x="80" y="126"/><use href="#b99" x="87" y="126"/></g>
<g><text class="t tb" x="128" y="147" textLength="7">4</text><use href="#b52" x="128" y="136"/></g>
<g><text class="t" x="304" y="155" textLength="24">20.7</text><use href="#s50" x="304" y="144"/><use href="#s48" x="310" y="144"/><use href="#s46" x="316" y="144"/><use href="#s55" x="322" y="144"/></g>
<g><text class="t tb" x="24" y="182" textLength="70">434.zeusmp</text><use href="#b52" x="24" y="171"/><use href="#b51" x="31" y="171"/><use href="#b52" x="38" y="171"/><use href="#b46" x="45" y="171"/><use href="#b122" x="52" y="171"/><use href="#b101" x="59" y="171"/><use href="#b117" x="66" y="171"/><use href="#b115" x="73" y="171"/><use href="#b109" x="80" y="171"/><use href="#b112" x="87" y="171"/></g>
<g><text class="t tb" x="128" y="192" textLength="7">4</text><use href="#b52" x="128" y="181"/></g>
<g><text class="t" x="446" y="200" textLength="24">35.2</text><use href="#s51" x="446" y="189"/><use href="#s53" x="452" y="189"/><use href="#s46" x="458" y="189"/><use href="#s50" x="464" y="189"/></g>
<g><text class="t tb" x="17" y="227" textLength="77">435.gromacs</text><use href="#b52" x="17" y="216"/><use href="#b51" x="24" y="216"/><use href="#b53" x="31" y="216"/><use href="#b46" x="38" y="216"/><use href="#b103" x="45" y="216"/><use href="#b114" x="52" y="216"/><use href="#b111" x="59" y="216"/><use href="#b109" x="66" y="216"/><use href="#b97" x="73" y="216"/><use href="#b99" x="80" y="216"/><use href="#b115" x="87" y="216"/></g>
<g><text class="t tb" x="128" y="237" textLength="7">4</text><use href="#b52" x="128" y="226"/></g>
<g><text class="t" x="542" y="245" textLength="24">49.6</text><use href="#s52" x="542" y="234"/><use href="#s57" x="548" y="234"/><use href="#s46" x="554" y="234"/><use href="#s54" x="560" y="234"/></g>
<g><text class="t tb" x="3" y="272" textLength="91">436.cactusADM</text><use href="#b52" x="3" y="261"/><use href="#b51" x="10" y="261"/><use href="#b54" x="17" y="261"/><use href="#b46" x="24" y="261"/><use href="#b99" x="31" y="261"/><use href="#b97" x="38" y="261"/><use href="#b99" x="45" y="261"/><use href="#b116" x="52" y="261"/><use href="#b117" x="59" y="261"/><use href="#b115" x="66" y="261"/><use href="#b65" x="73" y="261"/><use href="#b68" x="80" y="261"/><use href="#b77" x="87" y="261"/></g>
<g><text class="t tb" x="128" y="282" textLength="7">4</text><use href="#b52" x="128" y="271"/></g>
<g><text class="t" x="446" y="290" textLength="24">37.9</text><use href="#s51" x="446" y="279"/><use href="#s55" x="452" y="279"/><use href="#s46" x="458" y="279"/><use href="#s57" x="464" y="279"/></g>
<g><text class="t tb" x="10" y="317" textLength="84">437.leslie3d</text><use href="#b52" x="10" y="306"/><use href="#b51" x="17" y="306"/><use href="#b55" x="24" y="306"/><use href="#b46" x="31" y="306"/><use href="#b108" x="38" y="306"/><use href="#b101" x="45" y="306"/><use href="#b115" x="52" y="306"/><use href="#b108" x="59" y="306"/><use href="#b105" x="66" y="306"/><use href="#b101" x="73" y="306"/><use href="#b51" x="80" y="306"/><use href="#b100" x="87" y="306"/></g>
<g><text class="t tb" x="128" y="327" textLength="7">4</text><use href="#b52" x="128" y="316"/></g>
<g><text class="t" x="281" y="335" textLength="24">17.9</text><use href="#s49" x="281" y="324"/><use href="#s55" x="287" y="324"/><use href="#s46" x="293" y="324"/><use href="#s57" x="299" y="324"/></g>
<g><text class="t tb" x="38" y="362" textLength="56">444.namd</text><use href="#b52" x="38" y="351"/><use href="#b52" x="45" y="351"/><use href="#b52" x="52" y="351"/><use href="#b46" x="59" y="351"/><use href="#b110" x="66" y="351"/><use href="#b97" x="73" y="351"/><use href="#b109" x="80" y="351"/><use href="#b100" x="87" y="351"/></g>
<g><text class="t tb" x="128" y="372" textLength="7">4</text><use href="#b52" x="128" y="361"/></g>
<g><text class="t" x="480" y="380" textLength="24">42.1</text><use href="#s52" x="480" y="369"/><use href="#s50" x="486" y="369"/><use href="#s46" x="492" y="369"/><use href="#s49" x="498" y="369"/></g>
<g><text class="t tb" x="24" y="407" textLength="70">447.dealII</text><use href="#b52" x="24" y="396"/><use href="#b52" x="31" y="396"/><use href="#b55" x="38" y="396"/><use href="#b46" x="45" y="396"/><use href="#b100" x="52" y="396"/><use href="#b101" x="59" y="396"/><use href="#b97" x="66" y="396"/><use href="#b108" x="73" y="396"/><use href="#b73" x="80" y="396"/><use href="#b73" x="87" y="396"/></g>
<g><text class="t tb" x="128" y="417" textLength="7">4</text><use href="#b52" x="128" y="406"/></g>
<g><text class="t" x="612" y="425" textLength="24">58.1</text><use href="#s53" x="612" y="414"/><use href="#s56" x="618" y="414"/><use href="#s46" x="624" y="414"/><use href="#s49" x="630" y="414"/></g>
<g><text class="t tb" x="24" y="452" textLength="70">450.soplex</text><use href="#b52" x="24" y="441"/><use href="#b53" x="31" y="441"/><use href="#b48" x="38" y="441"/><use href="#b46" x="45" y="441"/><use href="#b115" x="52" y="441"/><use href="#b111" x="59" y="441"/><use href="#b112" x="66" y="441"/><use href="#b108" x="73" y="441"/><use href="#b101" x="80" y="441"/><use href="#b120" x="87" y="441"/></g>
<g><text class="t tb" x="128" y="462" textLength="7">4</text><use href="#b52" x="128" y="451"/></g>
<g><text class="t" x="326" y="470" textLength="24">23.4</text><use href="#s50" x="326" y="459"/><use href="#s51" x="332" y="459"/><use href="#s46" x="338" y="459"/><use href="#s52" x="344" y="459"/></g>
<g><text class="t tb" x="24" y="497" textLength="70">453.povray</text><use href="#b52" x="24" y="486"/><use href="#b53" x="31" y="486"/><use href="#b51" x="38" y="486"/><use href="#b46" x="45" y="486"/><use href="#b112" x="52" y="486"/><use href="#b111" x="59" y="486"/><use href="#b118" x="66" y="486"/><use href="#b114" x="73" y="486"/><use href="#b97" x="80" y="486"/><use href="#b121" x="87" y="486"/></g>
<g><text class="t tb" x="128" y="507" textLength="7">4</text><use href="#b52" x="128" y="496"/></g>
<g><text class="t" x="690" y="515" textLength="24">67.6</text><use href="#s54" x="690" y="504"/><use href="#s55" x="696" y="504"/><use href="#s46" x="702" y="504"/><use href="#s54" x="708" y="504"/></g>
<g><text class="t tb" x="10" y="542" textLength="84">454.calculix</text><use href="#b52" x="10" y="531"/><use href="#b53" x="17" y="531"/><use href="#b52" x="24" y="531"/><use href="#b46" x="31" y="531"/><use href="#b99" x="38" y="531"/><use href="#b97" x="45" y="531"/><use href="#b108" x="52" y="531"/><use href="#b99" x="59" y="531"/><use href="#b117" x="66" y="531"/><use href="#b108" x="73" y="531"/><use href="#b105" x="80" y="531"/><use href="#b120" x="87" y="531"/></g>
<g><text class="t tb" x="128" y="552" textLength="7">4</text><use href="#b52" x="128" y="541"/></g>
<g><text class="t" x="479" y="560" textLength="24">42.0</text><use href="#s52" x="479" y="549"/><use href="#s50" x="485" y="549"/><use href="#s46" x="491" y="549"/><use href="#s48" x="497" y="549"/></g>
<g><text class="t tb" x="10" y="587" textLength="84">459.GemsFDTD</text><use href="#b52" x="10" y="576"/><use href="#b53" x="17" y="576"/><use href="#b57" x="24" y="576"/><use href="#b46" x="31" y="576"/><use href="#b71" x="38" y="576"/><use href="#b101" x="45" y="576"/><use href="#b109" x="52" y="576"/><use href="#b115" x="59" y="576"/><use href="#b70" x="66" y="576"/><use href="#b68" x="73" y="576"/><use href="#b84" x="80" y="576"/><use href="#b68" x="87" y="576"/></g>
<g><text class="t tb" x="128" y="597" textLength="7">4</text><use href="#b52" x="128" y="586"/></g>
<g><text class="t" x="289" y="605" textLength="24">18.8</text><use href="#s49" x="289" y="594"/><use href="#s56" x="295" y="594"/><use href="#s46" x="301" y="594"/><use href="#s56" x="307" y="594"/></g>
<g><text class="t tb" x="31" y="632" textLength="63">465.tonto</text><use href="#b52" x="31" y="621"/><use href="#b54" x="38" y="621"/><use href="#b53" x="45" y="621"/><use href="#b46" x="52" y="621"/><use href="#b116" x="59" y="621"/><use href="#b111" x="66" y="621"/><use href="#b110" x="73" y="621"/><use href="#b116" x="80" y="621"/><use href="#b111" x="87" y="621"/></g>
<g><text class="t tb" x="128" y="642" textLength="7">4</text><use href="#b52" x="128" y="631"/></g>
<g><text class="t" x="528" y="650" textLength="24">47.9</text><use href="#s52" x="528" y="639"/><use href="#s55" x="534" y="639"/><use href="#s46" x="540" y="639"/><use href="#s57" x="546" y="639"/></g>
<g><text class="t tb" x="45" y="677" textLength="49">470.lbm</text><use href="#b52" x="45" y="666"/><use href="#b55" x="52" y="666"/><use href="#b48" x="59" y="666"/><use href="#b46" x="66" y="666"/><use href="#b108" x="73" y="666"/><use href="#b98" x="80" y="666"/><use href="#b109" x="87" y="666"/></g>
<g><text class="t tb" x="128" y="687" textLength="7">4</text><use href="#b52" x="128" y="676"/></g>
<g><text class="t" x="268" y="695" textLength="24">16.2</text><use href="#s49" x="268" y="684"/><use href="#s54" x="274" y="684"/><use href="#s46" x="280" y="684"/><use href="#s50" x="286" y="684"/></g>
<g><text class="t tb" x="45" y="722" textLength="49">481.wrf</text><use href="#b52" x="45" y="711"/><use href="#b56" x="52" y="711"/><use href="#b49" x="59" y="711"/><use href="#b46" x="66" y="711"/><use href="#b119" x="73" y="711"/><use href="#b114" x="80" y="711"/><use href="#b102" x="87" y="711"/></g>
<g><text class="t tb" x="128" y="732" textLength="7">4</text><use href="#b52" x="128" y="721"/></g>
<g><text class="t" x="389" y="740" textLength="24">31.0</text><use href="#s51" x="389" y="729"/><use href="#s49" x="395" y="729"/><use href="#s46" x="401" y="729"/><use href="#s48" x="407" y="729"/></g>
<g><text class="t tb" x="17" y="767" textLength="77">482.sphinx3</text><use href="#b52" x="17" y="756"/><use href="#b56" x="24" y="756"/><use href="#b50" x="31" y="756"/><use href="#b46" x="38" y="756"/><use href="#b115" x="45" y="756"/><use href="#b112" x="52" y="756"/><use href="#b104" x="59" y="756"/><use href="#b105" x="66" y="756"/><use href="#b110" x="73" y="756"/><use href="#b120" x="80" y="756"/><use href="#b51" x="87" y="756"/></g>
<g><text class="t tb" x="128" y="777" textLength="7">4</text><use href="#b52" x="128" y="766"/></g>
<g><text class="t" x="446" y="785" textLength="24">37.9</text><use href="#s51" x="446" y="774"/><use href="#s55" x="452" y="774"/><use href="#s46" x="458" y="774"/><use href="#s57" x="464" y="774"/></g>
<g><text class="t tb" x="251" y="799" textLength="189">SPECfp_rate_base2006 = 33.7</text><use href="#b83" x="251" y="788"/><use href="#b80" x="258" y="788"/><use href="#b69" x="265" y="788"/><use href="#b67" x="272" y="788"/><use href="#b102" x="279" y="788"/><use href="#b112" x="286" y="788"/><use href="#b95" x="293" y="788"/><use href="#b114" x="300" y="788"/><use href="#b97" x="307" y="788"/><use href="#b116" x="314" y="788"/><use href="#b101" x="321" y="788"/><use href="#b95" x="328" y="788"/><use href="#b98" x="335" y="788"/><use href="#b97" x="342" y="788"/><use href="#b115" x="349" y="788"/><use href="#b101" x="356" y="788"/><use href="#b50" x="363" y="788"/><use href="#b48" x="370" y="788"/><use href="#b48" x="377" y="788"/><use href="#b54" x="384" y="788"/><use href="#b61" x="398" y="788"/><use href="#b51" x="412" y="788"/><use href="#b51" x="419" y="788"/><use href="#b46" x="426" y="788"/><use href="#b55" x="433" y="788"/></g>
</g>
<g id="labels-peak" fill="#2424b4">
<g><text class="t tb" x="128" y="39" textLength="7">4</text><use href="#b52" x="128" y="28"/></g>
<g><text class="t" x="330" y="31" textLength="24">23.8</text><use href="#s50" x="330" y="20"/><use href="#s51" x="336" y="20"/><use href="#s46" x="342" y="20"/><use href="#s56" x="348" y="20"/></g>
<g><text class="t tb" x="128" y="84" textLength="7">4</text><use href="#b52" x="128" y="73"/></g>
<g><text class="t" x="624" y="76" textLength="24">59.6</text><use href="#s53" x="624" y="65"/><use href="#s57" x="630" y="65"/><use href="#s46" x="636" y="65"/><use href="#s54" x="642" y="65"/></g>
<g><text class="t tb" x="128" y="129" textLength="7">4</text><use href="#b52" x="128" y="118"/></g>
<g><text class="t" x="305" y="121" textLength="24">20.8</text><use href="#s50" x="305" y="110"/><use href="#s48" x="311" y="110"/><use href="#s46" x="317" y="110"/><use href="#s56" x="323" y="110"/></g>
<g><text class="t tb" x="128" y="174" textLength="7">4</text><use href="#b52" x="128" y="163"/></g>
<g><text class="t" x="446" y="166" textLength="24">35.2</text><use href="#s51" x="446" y="155"/><use href="#s53" x="452" y="155"/><use href="#s46" x="458" y="155"/><use href="#s50" x="464" y="155"/></g>
<g><text class="t tb" x="128" y="219" textLength="7">4</text><use href="#b52" x="128" y="208"/></g>
<g><text class="t" x="551" y="211" textLength="24">50.8</text><use href="#s53" x="551" y="200"/><use href="#s48" x="557" y="200"/><use href="#s46" x="563" y="200"/><use href="#s56" x="569" y="200"/></g>
<g><text class="t tb" x="128" y="264" textLength="7">1</text><use href="#b49" x="128" y="253"/></g>
<g><text class="t" x="518" y="256" textLength="24">46.7</text><use href="#s52" x="518" y="245"/><use href="#s54" x="524" y="245"/><use href="#s46" x="530" y="245"/><use href="#s55" x="536" y="245"/></g>
<g><text class="t tb" x="128" y="309" textLength="7">4</text><use href="#b52" x="128" y="298"/></g>
<g><text class="t" x="286" y="301" textLength="24">18.5</text><use href="#s49" x="286" y="290"/><use href="#s56" x="292" y="290"/><use href="#s46" x="298" y="290"/><use href="#s53" x="304" y="290"/></g>
<g><text class="t tb" x="128" y="354" textLength="7">4</text><use href="#b52" x="128" y="343"/></g>
<g><text class="t" x="483" y="346" textLength="24">42.4</text><use href="#s52" x="483" y="335"/><use href="#s50" x="489" y="335"/><use href="#s46" x="495" y="335"/><use href="#s52" x="501" y="335"/></g>
<g><text class="t tb" x="128" y="399" textLength="7">4</text><use href="#b52" x="128" y="388"/></g>
<g><text class="t" x="627" y="391" textLength="24">60.0</text><use href="#s54" x="627" y="380"/><use href="#s48" x="633" y="380"/><use href="#s46" x="639" y="380"/><use href="#s48" x="645" y="380"/></g>
<g><text class="t tb" x="128" y="444" textLength="7">4</text><use href="#b52" x="128" y="433"/></g>
<g><text class="t" x="347" y="436" textLength="24">25.9</text><use href="#s50" x="347" y="425"/><use href="#s53" x="353" y="425"/><use href="#s46" x="359" y="425"/><use href="#s57" x="365" y="425"/></g>
<g><text class="t tb" x="128" y="489" textLength="7">4</text><use href="#b52" x="128" y="478"/></g>
<g><text class="t" x="768" y="481" textLength="24">78.8</text><use href="#s55" x="768" y="470"/><use href="#s56" x="774" y="470"/><use href="#s46" x="780" y="470"/><use href="#s56" x="786" y="470"/></g>
<g><text class="t tb" x="128" y="534" textLength="7">4</text><use href="#b52" x="128" y="523"/></g>
<g><text class="t" x="623" y="526" textLength="24">59.5</text><use href="#s53" x="623" y="515"/><use href="#s57" x="629" y="515"/><use href="#s46" x="635" y="515"/><use href="#s53" x="641" y="515"/></g>
<g><text class="t tb" x="128" y="579" textLength="7">4</text><use href="#b52" x="128" y="568"/></g>
<g><text class="t" x="289" y="571" textLength="24">18.8</text><use href="#s49" x="289" y="560"/><use href="#s56" x="295" y="560"/><use href="#s46" x="301" y="560"/><use href="#s56" x="307" y="560"/></g>
<g><text class="t tb" x="128" y="624" textLength="7">4</text><use href="#b52" x="128" y="613"/></g>
<g><text class="t" x="540" y="616" textLength="24">49.5</text><use href="#s52" x="540" y="605"/><use href="#s57" x="546" y="605"/><use href="#s46" x="552" y="605"/><use href="#s53" x="558" y="605"/></g>
<g><text class="t tb" x="128" y="669" textLength="7">4</text><use href="#b52" x="128" y="658"/></g>
<g><text class="t" x="291" y="661" textLength="24">19.1</text><use href="#s49" x="291" y="650"/><use href="#s57" x="297" y="650"/><use href="#s46" x="303" y="650"/><use href="#s49" x="309" y="650"/></g>
<g><text class="t tb" x="128" y="714" textLength="7">4</text><use href="#b52" x="128" y="703"/></g>
<g><text class="t" x="389" y="706" textLength="24">31.0</text><use href="#s51" x="389" y="695"/><use href="#s49" x="395" y="695"/><use href="#s46" x="401" y="695"/><use href="#s48" x="407" y="695"/></g>
<g><text class="t tb" x="128" y="759" textLength="7">4</text><use href="#b52" x="128" y="748"/></g>
<g><text class="t" x="466" y="751" textLength="24">40.3</text><use href="#s52" x="466" y="740"/><use href="#s48" x="472" y="740"/><use href="#s46" x="478" y="740"/><use href="#s51" x="484" y="740"/></g>
<g><text class="t tb" x="366" y="821" textLength="154">SPECfp_rate2006 = 36.2</text><use href="#b83" x="366" y="810"/><use href="#b80" x="373" y="810"/><use href="#b69" x="380" y="810"/><use href="#b67" x="387" y="810"/><use href="#b102" x="394" y="810"/><use href="#b112" x="401" y="810"/><use href="#b95" x="408" y="810"/><use href="#b114" x="415" y="810"/><use href="#b97" x="422" y="810"/><use href="#b116" x="429" y="810"/><use href="#b101" x="436" y="810"/><use href="#b50" x="443" y="810"/><use href="#b48" x="450" y="810"/><use href="#b48" x="457" y="810"/><use href="#b54" x="464" y="810"/><use href="#b61" x="478" y="810"/><use href="#b51" x="492" y="810"/><use href="#b54" x="499" y="810"/><use href="#b46" x="506" y="810"/><use href="#b50" x="513" y="810"/></g>
</g>
</svg>
</body>
</html>
